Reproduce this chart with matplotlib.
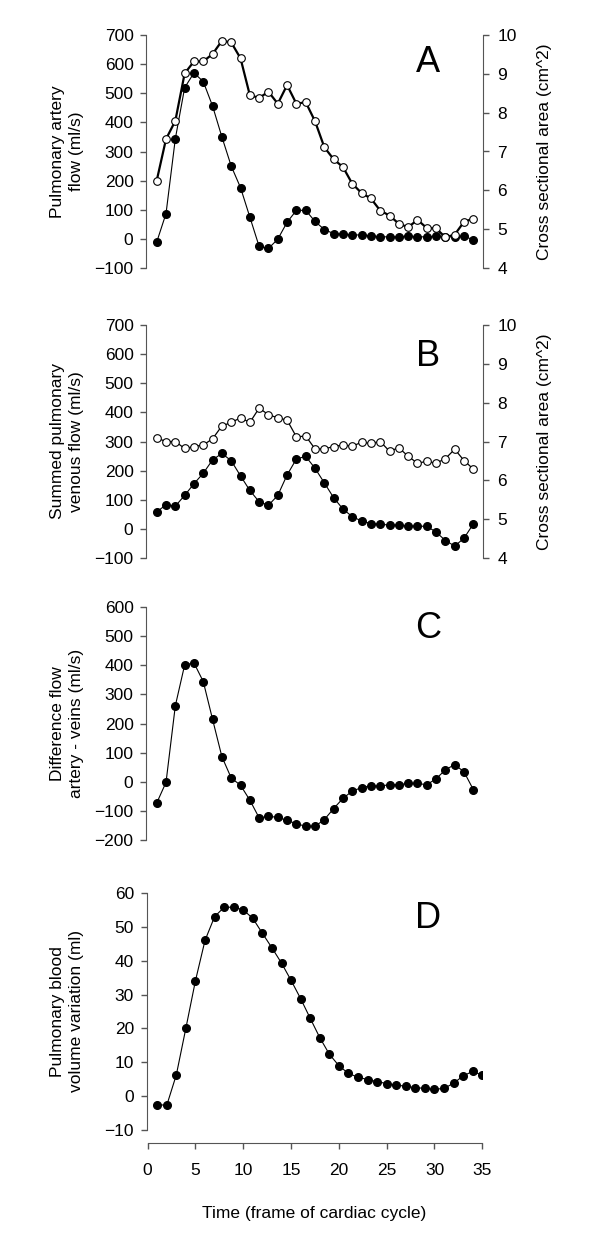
import matplotlib
matplotlib.use("Agg")
import matplotlib.pyplot as plt
import numpy as np

plt.rcParams['font.family'] = ['Liberation Sans', 'DejaVu Sans']

# frames of the cardiac cycle
frames = np.arange(1, 36)

# A - pulmonary artery
artery_flow = [-11, 87, 344, 519, 570, 540, 456, 350, 250, 176, 75, -26, -33, -1, 57, 98, 98, 60,
               32, 18, 16, 14, 13, 11, 7, 7, 7, 10, 7, 7, 9, 6, 7, 10, -4]
artery_area = [6.25, 7.32, 7.79, 9.01, 9.32, 9.32, 9.51, 9.85, 9.81, 9.40, 8.45, 8.38, 8.54, 8.23,
               8.71, 8.23, 8.27, 7.78, 7.11, 6.80, 6.60, 6.17, 5.93, 5.79, 5.48, 5.35, 5.14, 5.05,
               5.24, 5.03, 5.02, 4.79, 4.86, 5.19, 5.27]

# B - summed pulmonary veins
vein_flow = [58, 83, 78, 115, 155, 191, 237, 259, 234, 182, 132, 93, 81, 115, 185, 240, 249, 208,
             158, 107, 68, 42, 27, 18, 16, 13, 13, 10, 9, 9, -11, -40, -59, -32, 17]
vein_area = [7.09, 7.00, 7.00, 6.82, 6.87, 6.91, 7.07, 7.40, 7.49, 7.61, 7.49, 7.86, 7.69, 7.61,
             7.55, 7.12, 7.14, 6.81, 6.81, 6.87, 6.91, 6.88, 6.98, 6.95, 7.00, 6.75, 6.84, 6.62,
             6.44, 6.49, 6.44, 6.56, 6.80, 6.51, 6.29]

# C - difference artery - veins
diff_flow = [-73, -2, 261, 401, 408, 344, 214, 86, 13, -12, -63, -124, -119, -122, -133, -144,
             -153, -153, -130, -92, -57, -32, -20, -14, -15, -10, -10, -6, -6, -10, 10, 41, 59, 34, -27]

# D - blood volume variation
volume = [-2.5, -2.7, 6.3, 20.1, 34.1, 46.0, 53.0, 55.8, 55.8, 55.0, 52.5, 48.1, 43.8, 39.3, 34.2,
          28.8, 23.0, 17.3, 12.4, 9.0, 6.7, 5.6, 4.9, 4.3, 3.7, 3.3, 2.9, 2.5, 2.3, 2.0, 2.3, 3.8,
          6.0, 7.3, 6.2]

W, H = 600, 1236
fig = plt.figure(figsize=(W / 100, H / 100), dpi=100)

grey = '#555555'
fs_tick = 12.5
fs_label = 12.5


def px_axes(left, right, top, bottom):
    return fig.add_axes([left / W, 1 - bottom / H, (right - left) / W, (bottom - top) / H])


def style_left(ax):
    for s in ['top', 'right', 'bottom']:
        ax.spines[s].set_visible(False)
    ax.spines['left'].set_color(grey)
    ax.tick_params(axis='y', direction='out', length=4, width=1, color=grey,
                   labelsize=fs_tick, pad=5)
    ax.tick_params(axis='x', bottom=False, labelbottom=False)


def style_right(ax2):
    for s in ['top', 'left', 'bottom']:
        ax2.spines[s].set_visible(False)
    ax2.spines['right'].set_color(grey)
    ax2.tick_params(axis='y', direction='out', length=4, width=1, color=grey,
                    labelsize=fs_tick, pad=6)
    ax2.tick_params(axis='x', bottom=False, labelbottom=False)


def left_label(text, top, bottom):
    fig.text(67 / W, 1 - (top + bottom) / 2 / H, text, rotation=90, ha='center', va='center',
             multialignment='center', fontsize=fs_label, linespacing=1.3)


def right_label(top, bottom):
    fig.text(545 / W, 1 - (top + bottom) / 2 / H, 'Cross sectional area (cm^2)', rotation=90,
             ha='center', va='center', fontsize=fs_label)


def panel_letter(letter, y):
    fig.text(428 / W, 1 - y / H, letter, ha='center', va='center', fontsize=26)


filled = dict(color='black', marker='o', markersize=5.5, lw=0.8, markerfacecolor='black',
              markeredgecolor='black')
xl = (-0.15, 36.07)

# ---- A
ax = px_axes(146, 483.3, 35, 268)
ax.plot(frames, artery_flow, **filled)
ax.set_xlim(*xl)
ax.set_ylim(-100, 700)
ax.set_yticks(np.arange(-100, 701, 100))
style_left(ax)
ax2 = ax.twinx()
ax2.plot(frames, artery_area, color='black', marker='o', markersize=5.5, lw=1.6,
         markerfacecolor='white', markeredgecolor='black', markeredgewidth=0.8)
ax2.set_xlim(*xl)
ax2.set_ylim(4, 10)
ax2.set_yticks(np.arange(4, 11, 1))
style_right(ax2)
left_label('Pulmonary artery\nflow (ml/s)', 35, 268)
right_label(35, 268)
panel_letter('A', 63)

# ---- B
ax = px_axes(146, 483.3, 325, 558)
ax.plot(frames, vein_flow, **filled)
ax.set_xlim(*xl)
ax.set_ylim(-100, 700)
ax.set_yticks(np.arange(-100, 701, 100))
style_left(ax)
ax2 = ax.twinx()
ax2.plot(frames, vein_area, color='black', marker='o', markersize=5.5, lw=0.9,
         markerfacecolor='white', markeredgecolor='black', markeredgewidth=0.8)
ax2.set_xlim(*xl)
ax2.set_ylim(4, 10)
ax2.set_yticks(np.arange(4, 11, 1))
style_right(ax2)
left_label('Summed pulmonary\nvenous flow (ml/s)', 325, 558)
right_label(325, 558)
panel_letter('B', 356)

# ---- C
ax = px_axes(146, 483.3, 607, 840)
ax.plot(frames, diff_flow, **filled)
ax.set_xlim(*xl)
ax.set_ylim(-200, 600)
ax.set_yticks(np.arange(-200, 601, 100))
style_left(ax)
left_label('Difference flow\nartery - veins (ml/s)', 607, 840)
panel_letter('C', 628)

# ---- D
ax = px_axes(146.5, 482.3, 893, 1130)
ax.plot(frames, volume, **filled)
ax.set_xlim(-0.12, 35)
ax.set_ylim(-10, 60)
ax.set_yticks(np.arange(-10, 61, 10))
style_left(ax)
ax.spines['bottom'].set_visible(True)
ax.spines['bottom'].set_color(grey)
ax.spines['bottom'].set_position(('outward', 9))
ax.spines['bottom'].set_bounds(0, 35)
ax.set_xticks(np.arange(0, 36, 5))
ax.tick_params(axis='x', bottom=True, labelbottom=True, direction='out', length=4, width=1,
               color=grey, labelsize=fs_tick, pad=11)
ax.set_xlabel('Time (frame of cardiac cycle)', fontsize=fs_label, labelpad=20)
left_label('Pulmonary blood\nvolume variation (ml)', 893, 1130)
panel_letter('D', 918)

fig.savefig('out.png', dpi=100)
